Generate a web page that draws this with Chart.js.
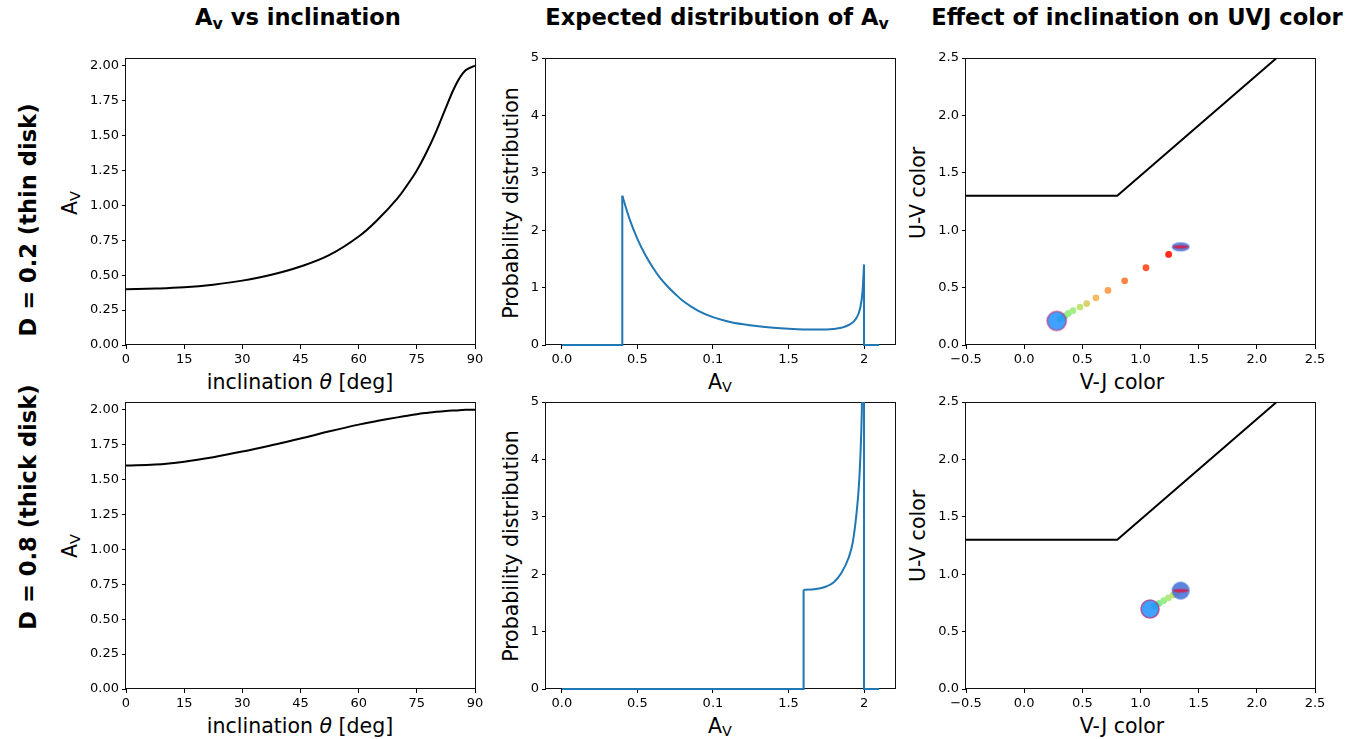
<!DOCTYPE html>
<html>
<head>
<meta charset="utf-8">
<script src="https://cdn.jsdelivr.net/npm/chart.js@4.4.1/dist/chart.umd.min.js"></script>
<style>
body{margin:0;background:#fff;width:1359px;height:739px;position:relative;overflow:hidden;font-family:'DejaVu Sans',sans-serif;color:#000}
canvas{position:absolute}
.lbl{position:absolute;white-space:nowrap;font-size:20.5px;line-height:1;transform:translate(-50%,-50%)}
.v{transform:translate(-50%,-50%) rotate(-90deg)}
.ttl{font-weight:bold;font-size:22.6px}
sub{font-size:70%;vertical-align:-0.25em;line-height:0}
</style>
</head>
<body>
<div class="lbl ttl" style="left:298px;top:17px">A<sub>v</sub> vs inclination</div>
<div class="lbl ttl" style="left:717px;top:17px">Expected distribution of A<sub>v</sub></div>
<div class="lbl ttl" style="left:1137px;top:17px">Effect of inclination on UVJ color</div>

<div class="lbl ttl v" style="left:28px;top:220px">D = 0.2 (thin disk)</div>
<div class="lbl ttl v" style="left:28px;top:507px">D = 0.8 (thick disk)</div>

<div class="lbl" style="left:300px;top:382px">inclination <i>θ</i> [deg]</div>
<div class="lbl" style="left:300px;top:726px">inclination <i>θ</i> [deg]</div>
<div class="lbl" style="left:720px;top:382px">A<sub>V</sub></div>
<div class="lbl" style="left:720px;top:726px">A<sub>V</sub></div>
<div class="lbl" style="left:1122px;top:382px">V-J color</div>
<div class="lbl" style="left:1122px;top:726px">V-J color</div>

<div class="lbl v" style="left:70px;top:203px">A<sub>V</sub></div>
<div class="lbl v" style="left:70px;top:546px">A<sub>V</sub></div>
<div class="lbl v" style="left:511px;top:203px">Probability distribution</div>
<div class="lbl v" style="left:511px;top:546px">Probability distribution</div>
<div class="lbl v" style="left:918px;top:193px">U-V color</div>
<div class="lbl v" style="left:918px;top:536px">U-V color</div>

<script>
Chart.defaults.font.family = "'DejaVu Sans', sans-serif";
Chart.defaults.font.size = 13;
Chart.defaults.color = '#000';
Chart.defaults.animation = false;

// ---- data ----
const incl = [0, 7.5, 15, 22.5, 30, 37.5, 45, 52.5, 60, 65, 70, 72.5, 75, 77.5, 80, 82.5, 85, 87.5, 90];
const avThin = [0.400, 0.404, 0.413, 0.432, 0.461, 0.503, 0.562, 0.645, 0.777, 0.90, 1.05, 1.145, 1.25, 1.38, 1.53, 1.70, 1.86, 1.965, 2.0];
const avThick = [1.600, 1.607, 1.628, 1.660, 1.700, 1.745, 1.793, 1.845, 1.893, 1.920, 1.945, 1.957, 1.968, 1.977, 1.985, 1.991, 1.995, 1.999, 2.0];

const distRange = [0, 2.1];
const distThinAv = [0.4, 0.45, 0.5, 0.55, 0.6, 0.65, 0.7, 0.75, 0.8, 0.9, 1.0, 1.1, 1.2, 1.3, 1.4, 1.5, 1.6, 1.7, 1.8, 1.85, 1.9, 1.95, 1.975, 1.99, 2.0];
const distThinP = [2.6, 2.18, 1.85, 1.58, 1.36, 1.17, 1.02, 0.89, 0.77, 0.60, 0.485, 0.41, 0.36, 0.325, 0.30, 0.282, 0.27, 0.268, 0.28, 0.30, 0.35, 0.47, 0.65, 0.93, 1.4];
const distThickAv = [1.6, 1.65, 1.7, 1.75, 1.8, 1.85, 1.9, 1.925, 1.95, 1.965, 1.975, 1.985, 1.992, 2.0];
const distThickP = [1.73, 1.732, 1.75, 1.785, 1.86, 2.02, 2.3, 2.55, 3.05, 3.5, 4.0, 4.8, 6.0, 9.0];

const uvjX = [-0.5, 0.8, 2.17];
const uvjY = [1.3, 1.3, 2.5];

const thinTrackX = [0.31, 0.33, 0.351, 0.38, 0.42, 0.48, 0.538, 0.617, 0.72, 0.864, 1.047, 1.242];
const thinTrackY = [0.228, 0.238, 0.253, 0.275, 0.30, 0.33, 0.361, 0.411, 0.475, 0.559, 0.673, 0.789];
const thinTrackCol = ['#6ef0a0', '#78f098', '#88f090', '#98ee88', '#a8ec84', '#c4e47a', '#dcd070', '#f4bc64', '#ffa456', '#ff8446', '#ff5a30', '#ff2a18'];
const thinFace = [0.28, 0.21];
const thinEdge = [1.345, 0.855];

const thickTrackX = [1.12, 1.16, 1.2, 1.24, 1.28, 1.31];
const thickTrackY = [0.722, 0.746, 0.770, 0.794, 0.818, 0.836];
const thickTrackCol = ['#70f0a8', '#80f098', '#98ee88', '#b0ea80', '#c8e078', '#e0d070'];
const thickFace = [1.082, 0.697];
const thickEdge = [1.345, 0.857];

const inclTicks = [0, 15, 30, 45, 60, 75, 90];
const avTicks = [0, 0.25, 0.5, 0.75, 1, 1.25, 1.5, 1.75, 2];
const distXTicks = [0, 0.5, 1, 1.5, 2];
const distXLabels = ['0.0', '0.5', '0.1', '1.5', '2'];
const distYTicks = [0, 1, 2, 3, 4, 5];
const vjTicks = [-0.5, 0, 0.5, 1, 1.5, 2, 2.5];
const uvTicks = [0, 0.5, 1, 1.5, 2, 2.5];

// ---- layout ----
const plotLeft = [126, 546, 966];
const plotTop = [58, 402];
const plotW = 349, plotH = 287;
const padL = 70, padT = 12, padR = 22, padB = 34;

// full box round each axes, drawn under the data
const frame = {
    id: 'frame',
    beforeDatasetsDraw(chart) {
        const a = chart.chartArea, c = chart.ctx;
        c.save();
        c.strokeStyle = '#111';
        c.lineWidth = 1;
        c.strokeRect(Math.round(a.left) - 0.5, Math.round(a.top) + 0.5, Math.round(a.width) + 1, Math.round(a.height) - 1);
        c.restore();
    }
};

function axis(min, max, ticks, fmt, isX) {
    return {
        type: 'linear', min: min, max: max,
        afterBuildTicks: s => { s.ticks = ticks.map(v => ({ value: v })); },
        afterFit: s => { if (isX) s.height = padB; else s.width = padL; },
        ticks: { callback: (v, i) => fmt(v, i), padding: 3, maxRotation: 0, autoSkip: false },
        grid: { drawOnChartArea: false, tickLength: 4, color: '#000' },
        border: { display: false }
    };
}

const minus = s => s.replace('-', '\u2212');

function pts(xs, ys) {
    return xs.map((x, i) => ({ x: x, y: ys[i] }));
}

function place(col, row) {
    const c = document.createElement('canvas');
    c.width = plotW + padL + padR;
    c.height = plotH + padT + padB;
    c.style.left = (plotLeft[col] - padL) + 'px';
    c.style.top = (plotTop[row] - padT) + 'px';
    document.body.appendChild(c);
    return c;
}

function draw(col, row, datasets, xs, ys) {
    new Chart(place(col, row), {
        type: 'scatter',
        data: { datasets: datasets },
        options: {
            responsive: false,
            layout: { padding: { left: 0, top: padT, right: padR, bottom: 0 } },
            plugins: { legend: { display: false }, tooltip: { enabled: false } },
            scales: { x: xs, y: ys }
        },
        plugins: [frame]
    });
}

const lineClip = { left: 2, right: 2, top: 0, bottom: 2 };

function curve(xs, ys, color) {
    return {
        data: pts(xs, ys), showLine: true, pointRadius: 0, clip: lineClip,
        borderColor: color, borderWidth: 2, cubicInterpolationMode: 'monotone'
    };
}

// smoother bezier for the inclination curves
function smooth(xs, ys, color) {
    return {
        data: pts(xs, ys), showLine: true, pointRadius: 0, clip: lineClip,
        borderColor: color, borderWidth: 2, tension: 0.4
    };
}

function straight(data, color) {
    return { data: data, showLine: true, pointRadius: 0, clip: lineClip, borderColor: color, borderWidth: 2, tension: 0 };
}

function distSets(av, p) {
    const n = av.length - 1;
    return [
        curve(av, p, '#1f77b4'),
        straight([{ x: distRange[0], y: 0 }, { x: av[0], y: 0 }, { x: av[0], y: p[0] }], '#1f77b4'),
        straight([{ x: av[n], y: p[n] }, { x: av[n], y: 0 }, { x: distRange[1], y: 0 }], '#1f77b4')
    ];
}

function faceOn(r) {
    const c = document.createElement('canvas');
    c.width = c.height = 2 * r + 4;
    const g = c.getContext('2d');
    g.beginPath();
    g.arc(r + 2, r + 2, r, 0, 2 * Math.PI);
    g.fillStyle = 'rgba(30,144,255,0.85)';
    g.fill();
    g.lineWidth = 1.6;
    g.strokeStyle = 'rgba(175,60,130,0.8)';
    g.stroke();
    return c;
}

function edgeOn(rx, ry) {
    const c = document.createElement('canvas');
    c.width = 2 * rx + 4;
    c.height = 2 * ry + 4;
    const g = c.getContext('2d');
    g.beginPath();
    g.ellipse(rx + 2, ry + 2, rx, ry, 0, 0, 2 * Math.PI);
    g.fillStyle = 'rgba(65,110,215,0.85)';
    g.fill();
    g.beginPath();
    g.ellipse(rx + 2, ry + 2, rx - 1, 1.8, 0, 0, 2 * Math.PI);
    g.fillStyle = 'rgba(215,25,70,0.85)';
    g.fill();
    return c;
}

function uvjSets(face, edge, faceStyle, edgeStyle, tx, ty, tc) {
    return [
        { data: [{ x: face[0], y: face[1] }], pointStyle: faceStyle, pointRadius: 10 },
        { data: [{ x: edge[0], y: edge[1] }], pointStyle: edgeStyle, pointRadius: 10 },
        { data: pts(tx, ty), pointRadius: 3.4, pointBorderWidth: 0, pointBackgroundColor: tc },
        straight(pts(uvjX, uvjY), '#000')
    ];
}

const fmt2 = v => v.toFixed(2);
const fmt0 = v => String(v);
const fmt1 = v => minus(v.toFixed(1));
const fmtDist = (v, i) => distXLabels[i];

// column 1: A_V vs inclination
draw(0, 0, [smooth(incl, avThin, '#000')], axis(0, 90, inclTicks, fmt0, true), axis(0, 2.055, avTicks, fmt2, false));
draw(0, 1, [smooth(incl, avThick, '#000')], axis(0, 90, inclTicks, fmt0, true), axis(0, 2.055, avTicks, fmt2, false));

// column 2: distribution of A_V
draw(1, 0, distSets(distThinAv, distThinP), axis(-0.105, 2.205, distXTicks, fmtDist, true), axis(0, 5, distYTicks, fmt0, false));
draw(1, 1, distSets(distThickAv, distThickP), axis(-0.105, 2.205, distXTicks, fmtDist, true), axis(0, 5, distYTicks, fmt0, false));

// column 3: UVJ diagram
draw(2, 0, uvjSets(thinFace, thinEdge, faceOn(9.5), edgeOn(9, 4.5), thinTrackX, thinTrackY, thinTrackCol),
    axis(-0.5, 2.5, vjTicks, fmt1, true), axis(0, 2.5, uvTicks, fmt1, false));
draw(2, 1, uvjSets(thickFace, thickEdge, faceOn(9), edgeOn(9, 9), thickTrackX, thickTrackY, thickTrackCol),
    axis(-0.5, 2.5, vjTicks, fmt1, true), axis(0, 2.5, uvTicks, fmt1, false));
</script>
</body>
</html>
